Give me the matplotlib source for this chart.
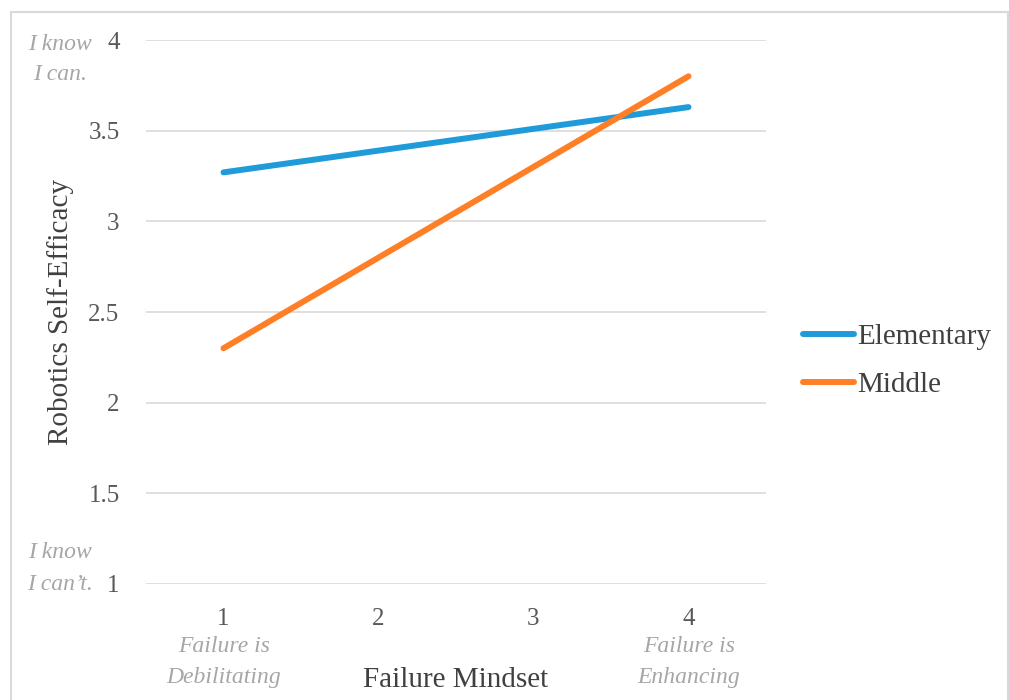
import matplotlib.pyplot as plt
from matplotlib.patches import Rectangle

# failure mindset levels and self-efficacy by school level
mindset = [1, 2, 3, 4]
elementary = [3.27, 3.39, 3.51, 3.63]
middle = [2.30, 2.80, 3.30, 3.80]
y_ticks = [1, 1.5, 2, 2.5, 3, 3.5, 4]
y_tick_labels = ["1", "1.5", "2", "2.5", "3", "3.5", "4"]

SERIF = "Liberation Serif"
TICK_GREY = "#595959"
NOTE_GREY = "#a6a6a6"


def main():
    fig = plt.figure(figsize=(10.09, 7.0), dpi=100)
    ax = fig.add_axes([146 / 1009, 1 - 584 / 700, 620 / 1009, 544 / 700])

    # chart area border
    fig.patches.append(Rectangle((11 / 1009, -0.05), 997 / 1009, 1.05 - 12 / 700,
                                 transform=fig.transFigure, fill=False,
                                 edgecolor="#d9d9d9", linewidth=1.5))

    ax.plot(mindset, elementary, color="#1F9BD9", linewidth=4.3,
            solid_capstyle="round", label="Elementary")
    ax.plot(mindset, middle, color="#FF7F27", linewidth=4.3,
            solid_capstyle="round", label="Middle")

    ax.set_xlim(0.5, 4.5)
    ax.set_ylim(1, 4)
    ax.set_yticks(y_ticks)
    ax.set_yticklabels(y_tick_labels)
    ax.set_xticks(mindset)
    ax.set_xticklabels([str(m) for m in mindset])
    ax.tick_params(axis="y", length=0, pad=19, labelsize=18, labelcolor=TICK_GREY)
    ax.tick_params(axis="x", length=0, pad=17, labelsize=18, labelcolor=TICK_GREY)
    for lbl in ax.get_xticklabels() + ax.get_yticklabels():
        lbl.set_family(SERIF)

    ax.grid(axis="y", color="#d9d9d9", linewidth=1.2)
    ax.set_axisbelow(True)
    for side in ax.spines.values():
        side.set_visible(False)

    ax.set_xlabel("Failure Mindset", family=SERIF, fontsize=21, color="#404040",
                  labelpad=27)
    ax.set_ylabel("Robotics Self-Efficacy", family=SERIF, fontsize=21,
                  color="#404040", labelpad=10)

    # italic anchors on both axes
    note = dict(family=SERIF, style="italic", fontsize=17, color=NOTE_GREY,
                transform=fig.transFigure)
    fig.text(60 / 1009, 1 - 45 / 700, "I know", ha="center", va="center", **note)
    fig.text(60 / 1009, 1 - 75 / 700, "I can.", ha="center", va="center", **note)
    fig.text(60 / 1009, 1 - 553 / 700, "I know", ha="center", va="center", **note)
    fig.text(60 / 1009, 1 - 584 / 700, "I can\u2019t.", ha="center", va="center", **note)
    fig.text(224 / 1009, 1 - 647 / 700, "Failure is", ha="center", va="center", **note)
    fig.text(224 / 1009, 1 - 678 / 700, "Debilitating", ha="center", va="center", **note)
    fig.text(689 / 1009, 1 - 647 / 700, "Failure is", ha="center", va="center", **note)
    fig.text(689 / 1009, 1 - 678 / 700, "Enhancing", ha="center", va="center", **note)

    leg = fig.legend(loc="center left", bbox_to_anchor=(803 / 1009, 1 - 361 / 700),
                     frameon=False, prop={"family": SERIF, "size": 21},
                     handlelength=1.75, handletextpad=0.1, labelspacing=0.72,
                     borderpad=0, borderaxespad=0)
    for t in leg.get_texts():
        t.set_color("#404040")

    fig.savefig("out.png", dpi=100)


if __name__ == "__main__":
    main()
